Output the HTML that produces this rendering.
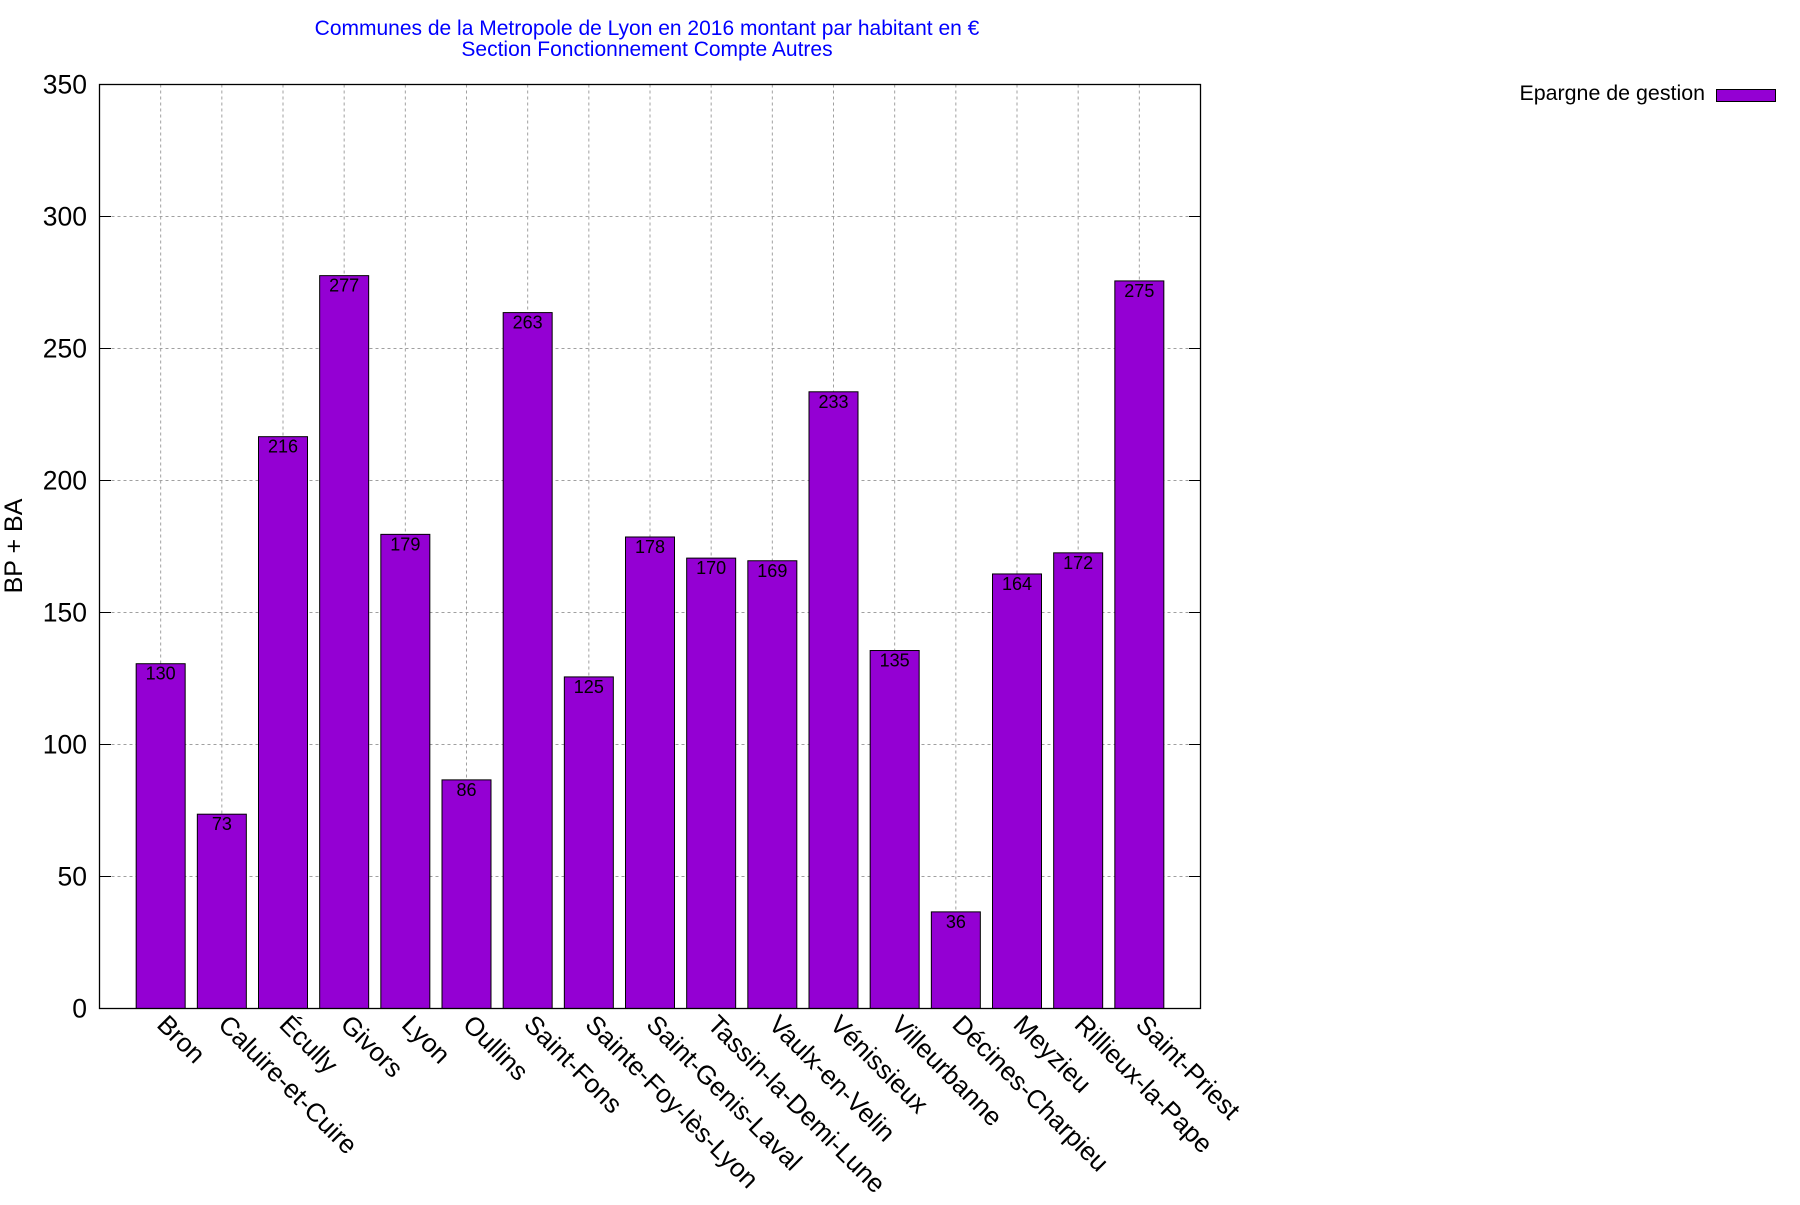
<!DOCTYPE html>
<html><head><meta charset="utf-8"><style>html,body{margin:0;padding:0;background:#fff}</style></head>
<body>
<svg width="1800" height="1200" xmlns="http://www.w3.org/2000/svg" font-family="'Liberation Sans', Arial, sans-serif">
<rect width="1800" height="1200" fill="#fff"/>
<text x="647" y="35" font-size="21" fill="#0000ff" text-anchor="middle">Communes de la Metropole de Lyon en 2016 montant par habitant en €</text>
<text x="647" y="56" font-size="21" fill="#0000ff" text-anchor="middle">Section Fonctionnement Compte Autres</text>
<g id="grid" stroke="#a0a0a0" stroke-width="1" stroke-dasharray="3,3"></g>
<g id="bars"></g>
<rect x="99.5" y="84.5" width="1101" height="924" fill="none" stroke="#000" stroke-width="1.3"/>
<g id="ticks" font-size="26.5" fill="#000" text-anchor="end"></g>
<g id="xl" font-size="26" fill="#000"></g>
<text transform="translate(22,546) rotate(-90)" font-size="25" text-anchor="middle">BP + BA</text>
<text x="1705" y="100" font-size="21.4" text-anchor="end">Epargne de gestion</text>
<rect x="1716.5" y="89.5" width="59" height="12" fill="#9400d3" stroke="#000" stroke-width="1"/>
<script>
var ns="http://www.w3.org/2000/svg";
function el(t,a,p,txt){var e=document.createElementNS(ns,t);for(var k in a)e.setAttribute(k,a[k]);if(txt!=null)e.textContent=txt;document.getElementById(p).appendChild(e);}
var names=["Bron","Caluire-et-Cuire","Écully","Givors","Lyon","Oullins","Saint-Fons","Sainte-Foy-lès-Lyon","Saint-Genis-Laval","Tassin-la-Demi-Lune","Vaulx-en-Velin","Vénissieux","Villeurbanne","Décines-Charpieu","Meyzieu","Rillieux-la-Pape","Saint-Priest"];
var vals=[130,73,216,277,179,86,263,125,178,170,169,233,135,36,164,172,275];
function Y(v){return 1008.5-v*2.64;}
var sp=1101/18;
for(var v=0;v<=350;v+=50){var y=Y(v);
 if(v>0&&v<350) el("line",{x1:99.5,x2:1200.5,y1:y,y2:y},"grid");
 el("text",{x:87,y:y+9},"ticks",String(v));
 el("line",{x1:99.5,x2:111,y1:y,y2:y,stroke:"#000"},"ticks");
 el("line",{x1:1189,x2:1200.5,y1:y,y2:y,stroke:"#000"},"ticks");}
for(var i=0;i<17;i++){var x=99.5+sp*(i+1);
 el("line",{x1:x,x2:x,y1:84.5,y2:1008.5},"grid");
 var h=vals[i]+0.6;
 el("rect",{x:x-24.5,y:Y(h),width:49,height:1008.5-Y(h),fill:"#9400d3",stroke:"#000","stroke-width":1},"bars");
 el("text",{x:x,y:Y(h)+16,"font-size":18,"text-anchor":"middle"},"bars",String(vals[i]));
 el("text",{transform:"translate("+(x-5)+",1026) rotate(45)"},"xl",names[i]);
}
</script>
</svg>
</body></html>
